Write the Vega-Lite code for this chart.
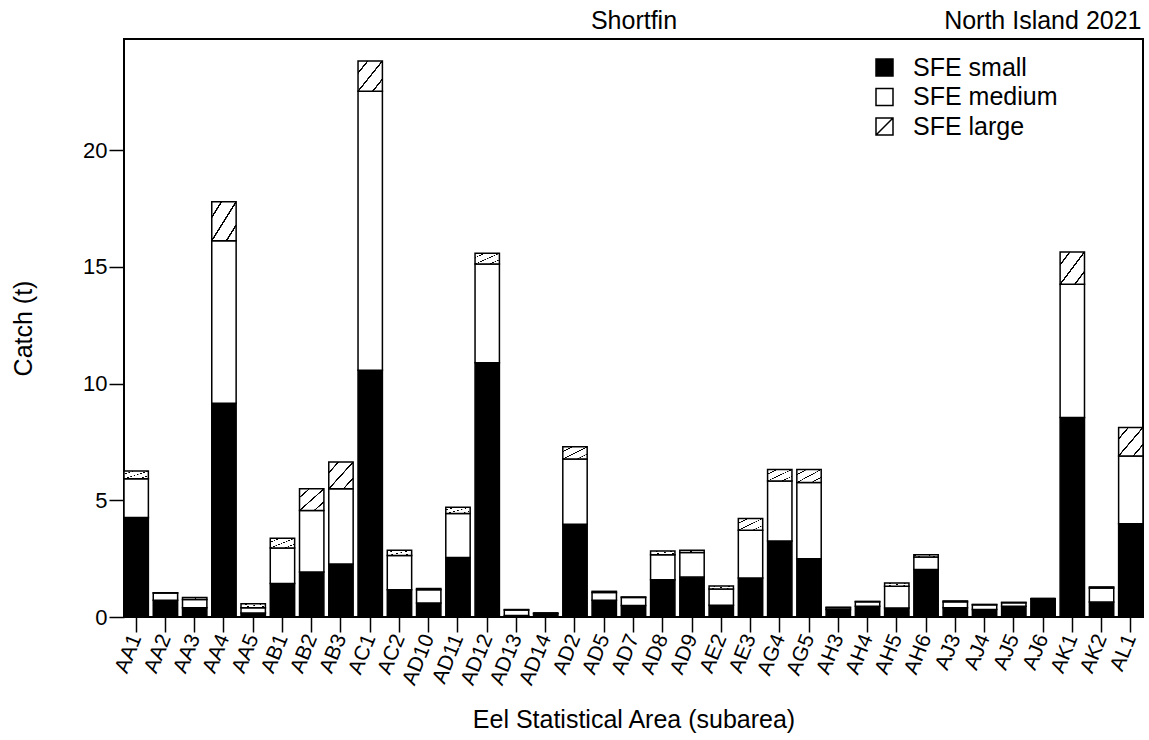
{
  "$schema": "https://vega.github.io/schema/vega-lite/v6.json",
  "width": 1019,
  "height": 578,
  "autosize": {"type": "none"},
  "padding": {"left": 124, "top": 39, "right": 6, "bottom": 123},
  "background": "white",
  "data": {
    "values": [
      {"area": "AA1", "SFE small": 4.26, "SFE medium": 1.66, "SFE large": 0.33},
      {"area": "AA2", "SFE small": 0.72, "SFE medium": 0.31, "SFE large": 0.01},
      {"area": "AA3", "SFE small": 0.40, "SFE medium": 0.35, "SFE large": 0.08},
      {"area": "AA4", "SFE small": 9.16, "SFE medium": 6.96, "SFE large": 1.67},
      {"area": "AA5", "SFE small": 0.17, "SFE medium": 0.23, "SFE large": 0.17},
      {"area": "AB1", "SFE small": 1.43, "SFE medium": 1.53, "SFE large": 0.41},
      {"area": "AB2", "SFE small": 1.93, "SFE medium": 2.63, "SFE large": 0.93},
      {"area": "AB3", "SFE small": 2.27, "SFE medium": 3.22, "SFE large": 1.15},
      {"area": "AC1", "SFE small": 10.57, "SFE medium": 11.95, "SFE large": 1.30},
      {"area": "AC2", "SFE small": 1.17, "SFE medium": 1.46, "SFE large": 0.23},
      {"area": "AD10", "SFE small": 0.60, "SFE medium": 0.57, "SFE large": 0.05},
      {"area": "AD11", "SFE small": 2.55, "SFE medium": 1.88, "SFE large": 0.27},
      {"area": "AD12", "SFE small": 10.89, "SFE medium": 4.23, "SFE large": 0.46},
      {"area": "AD13", "SFE small": 0.06, "SFE medium": 0.24, "SFE large": 0.02},
      {"area": "AD14", "SFE small": 0.15, "SFE medium": 0.02, "SFE large": 0.0},
      {"area": "AD2", "SFE small": 3.97, "SFE medium": 2.80, "SFE large": 0.52},
      {"area": "AD5", "SFE small": 0.72, "SFE medium": 0.33, "SFE large": 0.05},
      {"area": "AD7", "SFE small": 0.49, "SFE medium": 0.35, "SFE large": 0.02},
      {"area": "AD8", "SFE small": 1.60, "SFE medium": 1.07, "SFE large": 0.16},
      {"area": "AD9", "SFE small": 1.71, "SFE medium": 1.05, "SFE large": 0.10},
      {"area": "AE2", "SFE small": 0.50, "SFE medium": 0.70, "SFE large": 0.13},
      {"area": "AE3", "SFE small": 1.67, "SFE medium": 2.05, "SFE large": 0.50},
      {"area": "AG4", "SFE small": 3.26, "SFE medium": 2.57, "SFE large": 0.49},
      {"area": "AG5", "SFE small": 2.50, "SFE medium": 3.26, "SFE large": 0.56},
      {"area": "AH3", "SFE small": 0.32, "SFE medium": 0.08, "SFE large": 0.02},
      {"area": "AH4", "SFE small": 0.46, "SFE medium": 0.19, "SFE large": 0.02},
      {"area": "AH5", "SFE small": 0.39, "SFE medium": 0.93, "SFE large": 0.14},
      {"area": "AH6", "SFE small": 2.03, "SFE medium": 0.54, "SFE large": 0.10},
      {"area": "AJ3", "SFE small": 0.40, "SFE medium": 0.25, "SFE large": 0.04},
      {"area": "AJ4", "SFE small": 0.32, "SFE medium": 0.20, "SFE large": 0.02},
      {"area": "AJ5", "SFE small": 0.46, "SFE medium": 0.15, "SFE large": 0.02},
      {"area": "AJ6", "SFE small": 0.77, "SFE medium": 0.02, "SFE large": 0.0},
      {"area": "AK1", "SFE small": 8.55, "SFE medium": 5.70, "SFE large": 1.39},
      {"area": "AK2", "SFE small": 0.64, "SFE medium": 0.60, "SFE large": 0.05},
      {"area": "AL1", "SFE small": 3.99, "SFE medium": 2.91, "SFE large": 1.22}
    ]
  },
  "transform": [
    {"fold": ["SFE small", "SFE medium", "SFE large"], "as": ["size", "catch"]}
  ],
  "layer": [
    {
      "mark": {"type": "bar", "stroke": "black", "strokeWidth": 1.5},
      "encoding": {
        "x": {
          "field": "area",
          "type": "nominal",
          "sort": null,
          "scale": {"paddingInner": 0.1667, "paddingOuter": 0},
          "axis": {
            "orient": "bottom",
            "domain": false,
            "grid": false,
            "ticks": true,
            "tickColor": "black",
            "tickWidth": 1.5,
            "tickSize": 15,
            "labelAngle": -68,
            "labelFontSize": 21,
            "labelColor": "black",
            "labelFont": "Liberation Sans",
            "labelPadding": 3,
            "title": "Eel Statistical Area (subarea)",
            "titleFontSize": 25,
            "titleFontWeight": "normal",
            "titleFont": "Liberation Sans",
            "titleColor": "black",
            "titleX": 509.5,
            "titleY": 110,
            "titleAlign": "center",
            "titleBaseline": "alphabetic"
          }
        },
        "y": {
          "field": "catch",
          "type": "quantitative",
          "stack": "zero",
          "scale": {"domain": [0, 24.76], "nice": false, "zero": true},
          "axis": {
            "orient": "left",
            "values": [0, 5, 10, 15, 20],
            "domain": false,
            "grid": false,
            "tickColor": "black",
            "tickWidth": 1.5,
            "tickSize": 15,
            "labelFontSize": 22,
            "labelColor": "black",
            "labelFont": "Liberation Sans",
            "labelPadding": 2,
            "title": "Catch (t)",
            "titleFontSize": 25,
            "titleFontWeight": "normal",
            "titleFont": "Liberation Sans",
            "titleColor": "black",
            "titleAngle": -90,
            "titleX": -93,
            "titleY": 289,
            "titleAlign": "center",
            "titleBaseline": "alphabetic"
          }
        },
        "fill": {
          "condition": {
            "test": "datum['size'] === 'SFE large'",
            "value": {
              "gradient": "linear",
              "x1": 0, "y1": 0, "x2": 1, "y2": 1,
              "stops": [
                {"offset": 0, "color": "white"},
                {"offset": 0.18, "color": "white"},
                {"offset": 0.185, "color": "black"},
                {"offset": 0.215, "color": "black"},
                {"offset": 0.22, "color": "white"},
                {"offset": 0.48, "color": "white"},
                {"offset": 0.485, "color": "black"},
                {"offset": 0.515, "color": "black"},
                {"offset": 0.52, "color": "white"},
                {"offset": 0.78, "color": "white"},
                {"offset": 0.785, "color": "black"},
                {"offset": 0.815, "color": "black"},
                {"offset": 0.82, "color": "white"},
                {"offset": 1, "color": "white"}
              ]
            }
          },
          "field": "size",
          "type": "nominal",
          "sort": ["SFE small", "SFE medium", "SFE large"],
          "scale": {
            "domain": ["SFE small", "SFE medium", "SFE large"],
            "range": ["black", "white", "white"]
          },
          "legend": {
            "orient": "none",
            "legendX": 748,
            "legendY": 16,
            "title": null,
            "padding": 0,
            "symbolSize": 289,
            "symbolType": "square",
            "symbolStrokeColor": "black",
            "symbolStrokeWidth": 1.5,
            "symbolOpacity": 1,
            "labelFontSize": 25,
            "labelFont": "Liberation Sans",
            "labelColor": "black",
            "labelOffset": 16,
            "rowPadding": 3.5,
            "encode": {
              "symbols": {
                "update": {
                  "shape": {"signal": "datum.value === 'SFE large' ? 'M-1,-1H1V1H-1ZM-1,1L1,-1' : 'square'"},
                  "stroke": {"value": "black"}
                }
              }
            }
          }
        }
      }
    },
    {
      "mark": {"type": "bar", "opacity": 0},
      "encoding": {
        "x": {
          "field": "area",
          "type": "nominal",
          "sort": null,
          "axis": {
            "orient": "top",
            "labels": false,
            "ticks": false,
            "domain": false,
            "grid": false,
            "title": "Shortfin",
            "titleFontSize": 25,
            "titleFontWeight": "normal",
            "titleFont": "Liberation Sans",
            "titleColor": "black",
            "titleX": 509.5,
            "titleY": -11,
            "titleAlign": "center",
            "titleBaseline": "alphabetic"
          }
        },
        "y": {
          "field": "catch",
          "type": "quantitative",
          "stack": "zero",
          "axis": {
            "orient": "right",
            "labels": false,
            "ticks": false,
            "domain": false,
            "grid": false,
            "title": "North Island 2021",
            "titleFontSize": 25,
            "titleFontWeight": "normal",
            "titleFont": "Liberation Sans",
            "titleColor": "black",
            "titleAngle": 0,
            "titleX": -2,
            "titleY": -11,
            "titleAlign": "right",
            "titleBaseline": "alphabetic"
          }
        }
      }
    }
  ],
  "resolve": {"axis": {"x": "independent", "y": "independent"}},
  "config": {
    "view": {"stroke": "black", "strokeWidth": 2},
    "font": "Liberation Sans"
  }
}
